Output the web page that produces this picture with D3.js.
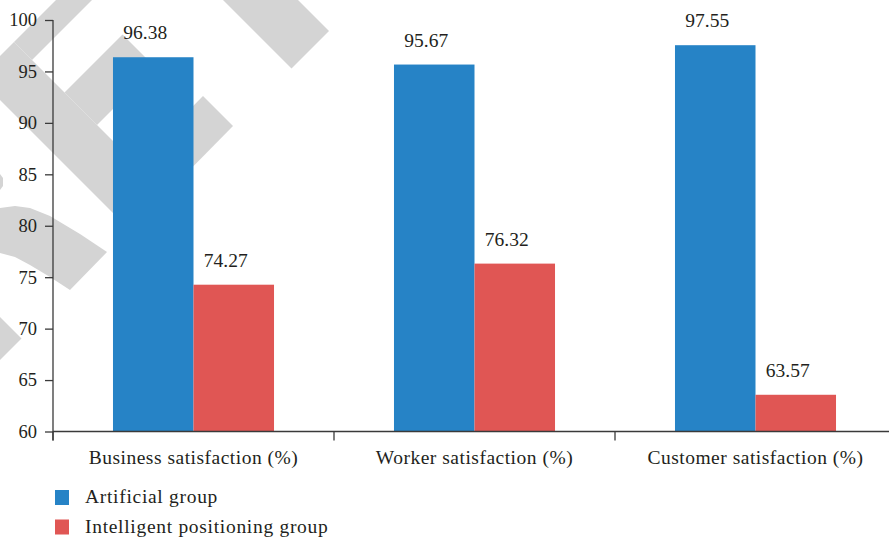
<!DOCTYPE html>
<html>
<head>
<meta charset="utf-8">
<script src="https://cdn.jsdelivr.net/npm/d3@7"></script>
<style>
  html, body { margin: 0; padding: 0; background: #fff; }
  svg { display: block; }
  svg text { font-family: "Liberation Serif", "DejaVu Serif", "Noto Serif", serif; fill: #231f20; }
</style>
</head>
<body>
<svg id="chart" width="889" height="540"></svg>
<script>
// Satisfaction survey results, two groups
const categories = ["Business satisfaction (%)", "Worker satisfaction (%)", "Customer satisfaction (%)"];
const seriesNames = ["Artificial group", "Intelligent positioning group"];
const artificialValues = [96.38, 95.67, 97.55];
const intelligentValues = [74.27, 76.32, 63.57];
const yTicks = [60, 65, 70, 75, 80, 85, 90, 95, 100];
const colors = ["#2683c6", "#e05654"];

const FONT = "'Liberation Serif', 'DejaVu Serif', 'Noto Serif', serif";

const svg = d3.select("#chart");
const W = 889, H = 540;
const margin = { left: 53, top: 20, bottom: 108 };
const bandStep = 281;

const x0 = d3.scaleBand()
  .domain(categories)
  .range([margin.left, margin.left + bandStep * categories.length])
  .paddingInner(0).paddingOuter(0);

const x1 = d3.scaleBand()
  .domain(seriesNames)
  .range([0, x0.bandwidth()])
  .paddingInner(0).paddingOuter(0.745);

const y = d3.scaleLinear().domain([60, 100]).range([H - margin.bottom - 0.5, margin.top]);

const seriesValues = [artificialValues, intelligentValues];
const rows = categories.map((c, i) => ({
  category: c,
  values: seriesNames.map((s, k) => ({ series: s, k, value: seriesValues[k][i] }))
}));

// Light grey diagonal stamp lettering in the background
const stamp = svg.append("g").attr("fill", "#d4d4d4");
const stampShapes = [
  [[173, -50], [248, -50], [329, 31], [291.5, 68.5]],
  [[106, -50], [142, -50], [32, 60], [14, 42]],
  [[14, 42], [32, 60], [166, 194], [130, 230], [0, 100], [0, 56]],
  [[64.5, 92.5], [122.5, 34.5], [155, 67], [97, 125]],
  [[203, 96], [233, 126], [166, 194], [136, 164]],
  [[0, 208], [15, 206], [30, 208], [50, 216], [80, 234], [107, 252], [70, 290], [50, 277], [30, 265], [15, 257], [0, 253]],
  [[0, 317], [21.5, 338.5], [0, 360]],
  [[0, 174], [3, 178], [3, 186], [0, 190]]
];
stamp.selectAll("path")
  .data(stampShapes)
  .join("path")
  .attr("d", d => d3.line()(d) + "Z");

// Bars
const groups = svg.append("g")
  .selectAll("g")
  .data(rows)
  .join("g")
  .attr("transform", d => `translate(${x0(d.category)},0)`);

groups.selectAll("rect")
  .data(d => d.values)
  .join("rect")
  .attr("x", d => x1(d.series))
  .attr("width", x1.bandwidth())
  .attr("y", d => y(d.value))
  .attr("height", d => y(60) - y(d.value))
  .attr("fill", d => colors[d.k]);

// Value labels
groups.selectAll("text.value")
  .data(d => d.values)
  .join("text")
  .attr("class", "value")
  .attr("x", d => x1(d.series) + x1.bandwidth() / 2 - 8)
  .attr("y", d => y(d.value) - 18)
  .attr("text-anchor", "middle")
  .attr("font-family", FONT)
  .attr("font-size", 19.5)
  .text(d => d.value.toFixed(2));

// Y axis
const yAxis = svg.append("g")
  .attr("transform", `translate(${margin.left},0)`)
  .call(d3.axisLeft(y).tickValues(yTicks).tickSize(8).tickPadding(8).tickSizeOuter(0))
  .attr("font-family", FONT);
yAxis.select(".domain").attr("stroke", "#3a3a3a").attr("stroke-width", 1.3)
  .attr("d", `M0,${y(100)}V${y(60) + 9}`);
yAxis.selectAll(".tick line").attr("stroke", "#3a3a3a").attr("stroke-width", 1.3);
yAxis.selectAll(".tick text").attr("font-size", 18.5).attr("fill", "#231f20");

// X axis with ticks at category boundaries
const xAxisG = svg.append("g").attr("transform", `translate(0,${y(60)})`)
  .attr("font-family", FONT);
xAxisG.append("line")
  .attr("x1", margin.left).attr("x2", W)
  .attr("stroke", "#3a3a3a").attr("stroke-width", 1.3);
xAxisG.selectAll("line.tick")
  .data(categories)
  .join("line")
  .attr("class", "tick")
  .attr("x1", d => x0(d)).attr("x2", d => x0(d))
  .attr("y1", 0).attr("y2", 9)
  .attr("stroke", "#3a3a3a").attr("stroke-width", 1.3);
xAxisG.selectAll("text")
  .data(categories)
  .join("text")
  .attr("x", d => x0(d) + x0.bandwidth() / 2)
  .attr("y", 32)
  .attr("text-anchor", "middle")
  .attr("font-size", 19.5)
  .attr("letter-spacing", 0.5)
  .text(d => d);

// Legend
const legend = svg.append("g").attr("transform", `translate(55, ${H - 50})`)
  .attr("font-family", FONT);
const li = legend.selectAll("g")
  .data(seriesNames)
  .join("g")
  .attr("transform", (d, i) => `translate(0, ${i * 29.5})`);
li.append("rect").attr("width", 14).attr("height", 15).attr("fill", (d, i) => colors[i]);
li.append("text").attr("x", 30).attr("y", 13).attr("font-size", 19.5)
  .attr("letter-spacing", 0.7).text(d => d);
</script>
</body>
</html>
